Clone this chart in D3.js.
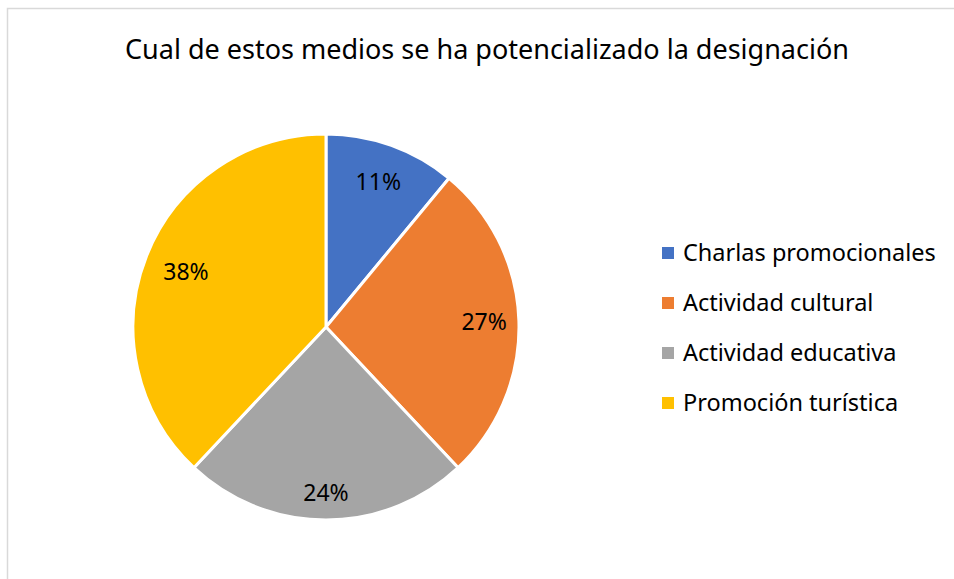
<!DOCTYPE html>
<html>
<head>
<meta charset="utf-8">
<script src="https://cdn.jsdelivr.net/npm/d3@7"></script>
<style>
  body { margin: 0; background: #fff; }
  text { font-family: "Noto Sans", "Open Sans", sans-serif; fill: #000; }
</style>
</head>
<body>
<svg id="chart" width="954" height="579"></svg>
<script>
const categories = ["Charlas promocionales", "Actividad cultural", "Actividad educativa", "Promoción turística"];
const values = [11, 27, 24, 38];
const colors = ["#4472c4", "#ed7d31", "#a5a5a5", "#ffc000"];
const title = "Cual de estos medios se ha potencializado la designación";

const svg = d3.select("#chart");

// outer chart border (only top and left visible)
svg.append("rect")
  .attr("x", 7.5).attr("y", 8.5)
  .attr("width", 1000).attr("height", 1000)
  .attr("fill", "none")
  .attr("stroke", "#d9d9d9")
  .attr("stroke-width", 1.5);

svg.append("text")
  .attr("x", 487).attr("y", 59)
  .attr("text-anchor", "middle")
  .style("font-size", "27px")
  .text(title);

const cx = 326, cy = 327, r = 193;
const color = d3.scaleOrdinal().domain(categories).range(colors);

const pie = d3.pie().sort(null).value(d => d.value);
const arcs = pie(categories.map((c, i) => ({ name: c, value: values[i] })));
const arc = d3.arc().innerRadius(0).outerRadius(r);

const g = svg.append("g").attr("transform", `translate(${cx},${cy})`);

g.selectAll("path")
  .data(arcs)
  .enter()
  .append("path")
  .attr("d", arc)
  .attr("fill", d => color(d.data.name))
  .attr("stroke", "#fff")
  .attr("stroke-width", 3)
  .attr("stroke-linejoin", "round");

// label radius factors per slice (Excel best-fit positions)
const labelR = [0.8, 0.82, 0.86, 0.78];
const total = d3.sum(values);
g.selectAll("text.lbl")
  .data(arcs)
  .enter()
  .append("text")
  .attr("class", "lbl")
  .attr("transform", (d, i) => {
    const a = (d.startAngle + d.endAngle) / 2;
    const rr = r * labelR[i];
    return `translate(${Math.sin(a) * rr},${-Math.cos(a) * rr})`;
  })
  .attr("text-anchor", "middle")
  .attr("dy", "0.35em")
  .style("font-size", "23px")
  .text(d => Math.round(d.data.value / total * 100) + "%");

const legend = svg.append("g").attr("transform", "translate(662,253)");
const rows = legend.selectAll("g")
  .data(categories)
  .enter()
  .append("g")
  .attr("transform", (d, i) => `translate(0,${i * 50})`);

rows.append("rect")
  .attr("x", 0).attr("y", -6)
  .attr("width", 12).attr("height", 12)
  .attr("fill", d => color(d));

rows.append("text")
  .attr("x", 21).attr("y", 0)
  .attr("dy", "0.35em")
  .style("font-size", "23.5px")
  .text(d => d);
</script>
</body>
</html>
